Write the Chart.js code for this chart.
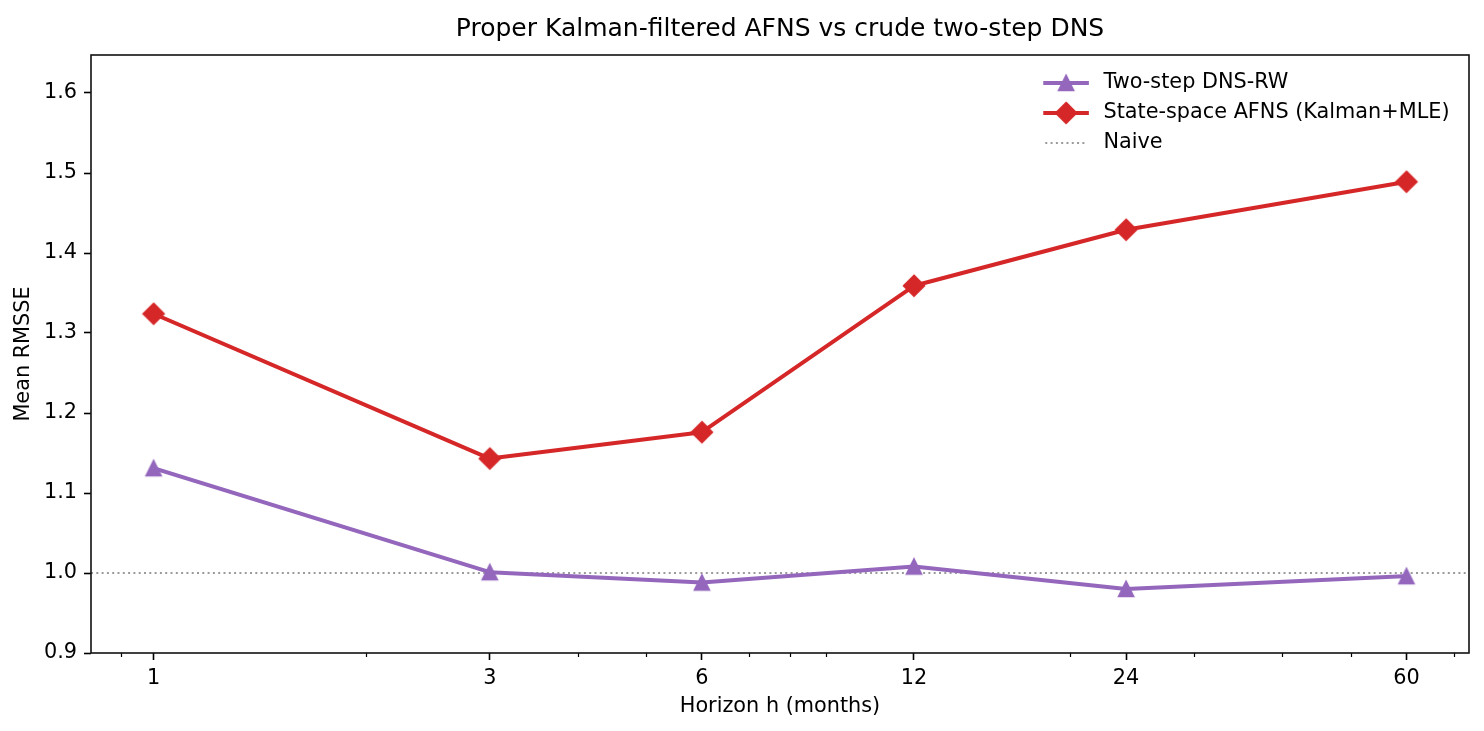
<!DOCTYPE html>
<html>
<head>
<meta charset="utf-8">
<title>Proper Kalman-filtered AFNS vs crude two-step DNS</title>
<script src="https://cdn.jsdelivr.net/npm/chart.js@4.4.1/dist/chart.umd.min.js"></script>
<style>
  html, body { margin: 0; padding: 0; background: #fff; }
  #wrap { width: 1484px; height: 731px; }
</style>
</head>
<body>
<div id="wrap"><canvas id="myChart" width="1484" height="731"></canvas></div>
<script>
// data
const horizons = [1, 3, 6, 12, 24, 60];
const dnsRw = [1.131, 1.001, 0.988, 1.008, 0.980, 0.996];
const afns = [1.324, 1.143, 1.176, 1.359, 1.429, 1.489];
const naiveLevel = 1.0;
const minorTicks = [0.9, 2, 4, 5, 7, 8, 9, 20, 30, 40, 50, 70];
const yTicks = [0.9, 1.0, 1.1, 1.2, 1.3, 1.4, 1.5, 1.6];
const xLimits = [0.815, 73.6];
const yLimits = [0.9, 1.6475];

const purple = '#9467bd';
const red = '#d62728';
const FONT = "'DejaVu Sans', sans-serif";
const FS = 20.8;
const labelFont = { family: FONT, size: FS, weight: 'normal' };

Chart.defaults.font.family = FONT;

// matplotlib-like markers ('^' and 'D', markersize 7)
function markerCanvas(shape, color) {
  const s = 26;
  const c = document.createElement('canvas');
  c.width = s; c.height = s;
  const g = c.getContext('2d');
  const m = s / 2;
  g.beginPath();
  if (shape === 'tri') {
    const h = 7.2;
    g.moveTo(m, m - h); g.lineTo(m - h, m + h); g.lineTo(m + h, m + h);
  } else {
    const h = 10.2;
    g.moveTo(m, m - h); g.lineTo(m + h, m); g.lineTo(m, m + h); g.lineTo(m - h, m);
  }
  g.closePath();
  g.fillStyle = color;
  g.fill();
  g.lineWidth = 2;
  g.strokeStyle = color;
  g.stroke();
  return c;
}

const triMarker = markerCanvas('tri', purple);
const diaMarker = markerCanvas('dia', red);

// frame, minor ticks and an in-axes legend like matplotlib
const extrasPlugin = {
  id: 'extras',
  afterDraw(chart) {
    const { ctx, chartArea: a, scales } = chart;
    ctx.save();

    // minor ticks on the log axis
    ctx.strokeStyle = '#000';
    ctx.lineWidth = 1.2;
    minorTicks.forEach(v => {
      const px = Math.round(scales.x.getPixelForValue(v)) + 0.5;
      ctx.beginPath();
      ctx.moveTo(px, a.bottom);
      ctx.lineTo(px, a.bottom + 4);
      ctx.stroke();
    });

    // frame
    ctx.lineWidth = 1.6;
    ctx.strokeStyle = '#111';
    ctx.strokeRect(a.left, a.top, a.right - a.left, a.bottom - a.top);

    // legend
    ctx.font = `${FS}px ${FONT}`;
    const sets = chart.data.datasets;
    const maxW = Math.max(...sets.map(d => ctx.measureText(d.label).width));
    const textX = a.right - 19.5 - maxW;
    const x2 = textX - 16.6;
    const x1 = x2 - 41.6;
    sets.forEach((d, i) => {
      const y = a.top + 28 + i * 30;
      ctx.beginPath();
      ctx.setLineDash(d.borderDash || []);
      ctx.lineCap = d.borderDash ? 'butt' : 'square';
      ctx.lineWidth = d.borderWidth;
      ctx.strokeStyle = d.borderColor;
      ctx.moveTo(x1, y);
      ctx.lineTo(x2, y);
      ctx.stroke();
      ctx.setLineDash([]);
      if (d.pointStyle instanceof HTMLCanvasElement) {
        const img = d.pointStyle;
        ctx.drawImage(img, (x1 + x2) / 2 - img.width / 2, y - img.height / 2);
      }
      ctx.fillStyle = '#000';
      ctx.textBaseline = 'middle';
      ctx.textAlign = 'left';
      ctx.fillText(d.label, textX, y);
    });
    ctx.restore();
  }
};

const ctx = document.getElementById('myChart').getContext('2d');
const chart = new Chart(ctx, {
  type: 'line',
  data: {
    datasets: [
      {
        label: 'Two-step DNS-RW',
        data: horizons.map((h, i) => ({ x: h, y: dnsRw[i] })),
        borderColor: purple,
        backgroundColor: purple,
        borderWidth: 4,
        borderJoinStyle: 'round',
        borderCapStyle: 'square',
        pointStyle: triMarker,
        pointRadius: 9,
        tension: 0
      },
      {
        label: 'State-space AFNS (Kalman+MLE)',
        data: horizons.map((h, i) => ({ x: h, y: afns[i] })),
        borderColor: red,
        backgroundColor: red,
        borderWidth: 4,
        borderJoinStyle: 'round',
        borderCapStyle: 'square',
        pointStyle: diaMarker,
        pointRadius: 11,
        tension: 0
      },
      {
        label: 'Naive',
        data: xLimits.map(x => ({ x: x, y: naiveLevel })),
        borderColor: '#7a7a7a',
        borderWidth: 1.5,
        borderDash: [2, 3.3],
        pointRadius: 0,
        tension: 0
      }
    ]
  },
  options: {
    responsive: false,
    animation: false,
    devicePixelRatio: 1,
    layout: { padding: { left: 0, right: 15, top: 0, bottom: 0 } },
    plugins: {
      legend: { display: false },
      tooltip: { enabled: false },
      title: {
        display: true,
        fullSize: false,
        text: 'Proper Kalman-filtered AFNS vs crude two-step DNS',
        color: '#000',
        font: { family: FONT, size: 25, weight: 'normal' },
        padding: { top: 14, bottom: 11 }
      }
    },
    scales: {
      x: {
        type: 'logarithmic',
        min: xLimits[0],
        max: xLimits[1],
        afterBuildTicks: (s) => {
          s.ticks = horizons.concat(minorTicks).sort((p, q) => p - q)
            .map(v => ({ value: v, minor: !horizons.includes(v) }));
        },
        ticks: {
          autoSkip: false,
          maxRotation: 0,
          minRotation: 0,
          padding: 6,
          color: '#000',
          font: labelFont,
          callback: (v) => horizons.includes(v) ? String(v) : ''
        },
        grid: {
          drawOnChartArea: false,
          drawTicks: true,
          tickLength: 7,
          tickWidth: 1.6,
          tickColor: (c) => (c.tick && c.tick.minor) ? 'rgba(0,0,0,0)' : '#000'
        },
        border: { display: false },
        title: {
          display: true,
          text: 'Horizon h (months)',
          color: '#000',
          font: labelFont,
          padding: { top: 0, bottom: 11.5 }
        },
        afterFit: (s) => { s.height = 78; }
      },
      y: {
        min: yLimits[0],
        max: yLimits[1],
        afterBuildTicks: (s) => { s.ticks = yTicks.map(v => ({ value: v })); },
        ticks: {
          padding: 7,
          color: '#000',
          font: labelFont,
          callback: (v) => Number(v).toFixed(1)
        },
        grid: {
          drawOnChartArea: false,
          tickLength: 7,
          tickWidth: 1.6,
          tickColor: '#000'
        },
        border: { display: false },
        title: {
          display: true,
          text: 'Mean RMSSE',
          color: '#000',
          font: labelFont,
          padding: { top: 11.5, bottom: 0 }
        },
        afterFit: (s) => { s.width = 91; }
      }
    }
  },
  plugins: [extrasPlugin]
});
</script>
</body>
</html>
